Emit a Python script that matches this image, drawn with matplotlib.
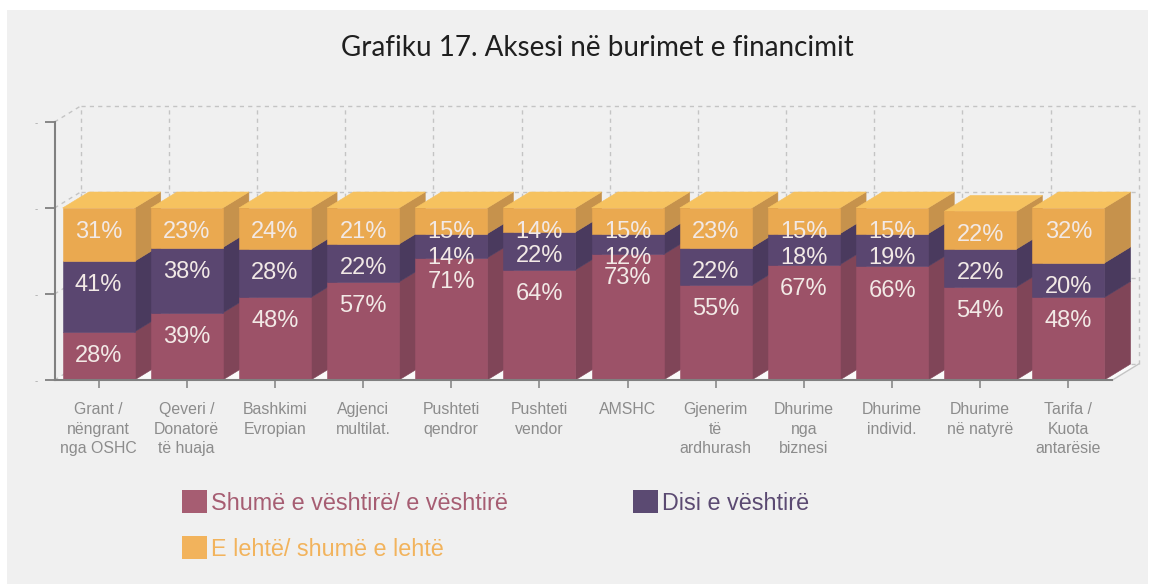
import matplotlib
matplotlib.use("Agg")
import matplotlib.pyplot as plt
from matplotlib.patches import Polygon, Rectangle

categories = [
    "Grant /\nnëngrant\nnga OSHC", "Qeveri /\nDonatorë\ntë huaja", "Bashkimi\nEvropian",
    "Agjenci\nmultilat.", "Pushteti\nqendror", "Pushteti\nvendor", "AMSHC",
    "Gjenerim\ntë\nardhurash", "Dhurime\nnga\nbiznesi", "Dhurime\nindivid.",
    "Dhurime\nnë natyrë", "Tarifa /\nKuota\nantarësie",
]
hard = [28, 39, 48, 57, 71, 64, 73, 55, 67, 66, 54, 48]
medium = [41, 38, 28, 22, 14, 22, 12, 22, 18, 19, 22, 20]
easy = [31, 23, 24, 21, 15, 14, 15, 23, 15, 15, 22, 32]
y_ticks = [0, 50, 100, 150]

series_labels = ["Shumë e vështirë/ e vështirë", "Disi e vështirë", "E lehtë/ shumë e lehtë"]
front_colors = ["#9c5268", "#5a4670", "#eaa950"]
side_colors = ["#804558", "#4a3a5e", "#c6924c"]
top_color = "#f6c25f"
legend_colors = ["#a65d72", "#5b4a72", "#f2b35c"]

plt.rcParams["font.family"] = ["Liberation Sans", "DejaVu Sans"]

W, H = 1157, 584
fig = plt.figure(figsize=(W / 100, H / 100), dpi=100, facecolor="white")
fig.add_artist(Rectangle((7 / W, 0), 1141 / W, 574 / H, transform=fig.transFigure,
                         facecolor="#f0f0f0", edgecolor="none", zorder=-5))

ax = fig.add_axes([54.5 / W, (H - 380) / H, 1058 / W, 258 / H])
ax.patch.set_visible(False)
ax.set_xlim(-0.5, 11.5)
ax.set_ylim(0, 150)

# 3D depth of the fake perspective, in data units
dx = 0.297
dy = 9.3
bar_w = 0.816
grid_kw = dict(color="#c4c4c4", lw=1, ls=(0, (3, 3)), clip_on=False, zorder=1)

# floor
ax.add_patch(Polygon([(-0.5, 0), (-0.5 + dx, dy), (11.5 + dx, dy), (11.5, 0)], closed=True,
                     facecolor="#fafafa", edgecolor="none", clip_on=False, zorder=0.5))

# back wall and left wall
for v in y_ticks:
    ax.plot([-0.5 + dx, 11.5 + dx], [v + dy, v + dy], **grid_kw)
    ax.plot([-0.5, -0.5 + dx], [v, v + dy], **grid_kw)
for i in range(13):
    ax.plot([i - 0.5 + dx, i - 0.5 + dx], [dy, 150 + dy], **grid_kw)
ax.plot([11.5, 11.5 + dx], [0, dy], color="#c4c4c4", lw=1, clip_on=False, zorder=1)

# bars go left to right so each one covers the side of the previous one
for i in range(len(categories)):
    z = 2 + i
    bottom = 0
    for vals, fc, sc in zip([hard, medium, easy], front_colors, side_colors):
        v = vals[i]
        x0 = i - bar_w / 2
        x1 = i + bar_w / 2
        ax.add_patch(Polygon([(x1, bottom), (x1 + dx, bottom + dy), (x1 + dx, bottom + v + dy), (x1, bottom + v)],
                             closed=True, facecolor=sc, edgecolor=sc, lw=0.4, clip_on=False, zorder=z))
        ax.bar(i, v, width=bar_w, bottom=bottom, color=fc, edgecolor=fc, lw=0.4, zorder=z + 0.1)
        ax.annotate(f"{v}%", (i, bottom + v), xytext=(0, -17.3), textcoords="offset points",
                    ha="center", va="center", fontsize=17, color="#f2e9e6", zorder=z + 0.2)
        bottom += v
    ax.add_patch(Polygon([(x0, bottom), (x1, bottom), (x1 + dx, bottom + dy), (x0 + dx, bottom + dy)],
                         closed=True, facecolor=top_color, edgecolor=top_color, lw=0.4, clip_on=False, zorder=z))

for s in ["top", "right"]:
    ax.spines[s].set_visible(False)
for s in ["left", "bottom"]:
    ax.spines[s].set_color("#808080")
    ax.spines[s].set_linewidth(1.5)
    ax.spines[s].set_zorder(30)

ax.set_xticks(range(len(categories)))
ax.set_xticklabels(categories, fontsize=11.4, color="#8c8c8c", linespacing=1.36)
ax.tick_params(axis="x", length=6, width=1.1, color="#808080", pad=10)
ax.set_yticks(y_ticks)
ax.set_yticklabels(["-"] * len(y_ticks), fontsize=7, color="#a8a8a8")
ax.tick_params(axis="y", length=7, width=1.3, color="#808080", pad=5)

fig.text(597 / W, 1 - 48 / H, "Grafiku 17. Aksesi në burimet e financimit", ha="center", va="center",
         fontsize=20, color="#1f1f1f", family="Lato")

# legend columns fill top-down, so the easy series goes second
order = [0, 2, 1]
handles = [Rectangle((0, 0), 1, 1, facecolor=legend_colors[k], edgecolor="none") for k in order]
fig.legend(handles, [series_labels[k] for k in order], ncol=2, loc="upper left",
           bbox_to_anchor=(182 / W, 1 - 490 / H), frameon=False, fontsize=16.8,
           labelcolor=[legend_colors[k] for k in order], borderpad=0, borderaxespad=0,
           handlelength=1.07, handleheight=1.16, handletextpad=0.17, labelspacing=0.92,
           columnspacing=5.38)

fig.savefig("out.png", dpi=100)
